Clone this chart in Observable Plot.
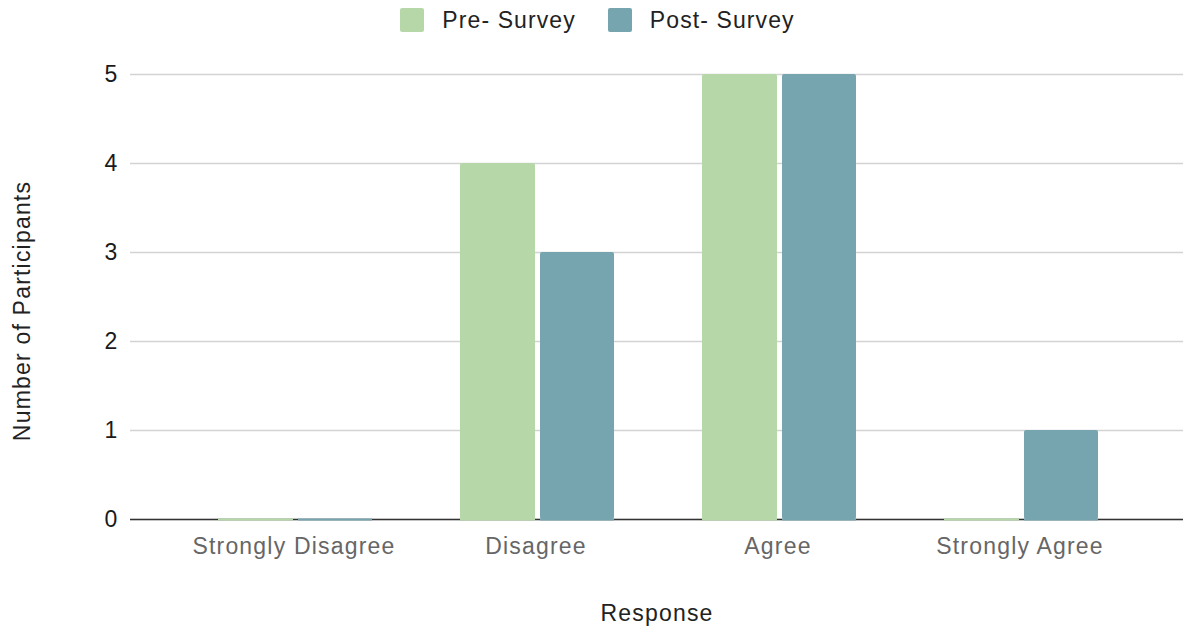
<!DOCTYPE html>
<html><head><meta charset="utf-8">
<script src="https://cdn.jsdelivr.net/npm/d3@7"></script>
<script src="https://cdn.jsdelivr.net/npm/@observablehq/plot@0.6"></script>
<style>
body{margin:0;background:#fff;font-family:"Liberation Sans",Arial,sans-serif;}
#legend{height:40px;display:flex;justify-content:center;align-items:center;gap:32px;font-size:23px;color:#222;letter-spacing:1.1px;padding-left:12px}
.item{display:flex;align-items:center;gap:18px}
.sw{width:24px;height:24px;border-radius:2px}
</style></head><body>
<div id="legend"></div>
<div id="chart"></div>
<script>
const categories = ["Strongly Disagree", "Disagree", "Agree", "Strongly Agree"];
const seriesNames = ["Pre- Survey", "Post- Survey"];
const seriesColors = ["#b6d7a8", "#76a5af"];
const preSurvey = [0, 4, 5, 0];
const postSurvey = [0, 3, 5, 1];
const yTicks = [0, 1, 2, 3, 4, 5];
const xTitle = "Response";
const yTitle = "Number of Participants";

const legend = document.getElementById("legend");
seriesNames.forEach((n, i) => {
  const it = document.createElement("div"); it.className = "item";
  const sw = document.createElement("div"); sw.className = "sw"; sw.style.background = seriesColors[i];
  const tx = document.createElement("span"); tx.textContent = n;
  it.append(sw, tx); legend.append(it);
});

const pre = categories.map((c, i) => ({category: c, value: preSurvey[i]}));
const post = categories.map((c, i) => ({category: c, value: postSurvey[i]}));

const chart = Plot.plot({
  width: 1183,
  height: 594,
  marginLeft: 130,
  marginRight: 0,
  marginTop: 34,
  marginBottom: 115,
  style: {fontSize: "23px", fontFamily: "'Liberation Sans', Arial, sans-serif", letterSpacing: "1.2px", background: "#fff"},
  x: {type: "band", domain: categories, padding: 0.35},
  y: {domain: [0, 5]},
  marks: [
    Plot.ruleY(yTicks, {stroke: "#d3d3d3", strokeWidth: 1.6}),
    Plot.axisY({ticks: yTicks, tickSize: 0, tickPadding: 12, tickFormat: d3.format("d"), color: "#1a1a1a", label: null}),
    Plot.axisX({tickSize: 0, tickPadding: 18, color: "#666", label: null}),
    Plot.text([yTitle], {text: d => d, frameAnchor: "left", rotate: -90, dx: -108, dy: 14, fill: "#222", textAnchor: "middle", lineAnchor: "middle"}),
    Plot.text([xTitle], {text: d => d, frameAnchor: "bottom", dy: 94, fill: "#222", textAnchor: "middle", lineAnchor: "middle"}),
    Plot.ruleY([0], {stroke: "#333", strokeWidth: 1.5}),
    Plot.tickY(pre, {x: "category", y: 0, stroke: seriesColors[0], strokeWidth: 2, insetLeft: 3, insetRight: 79}),
    Plot.tickY(post, {x: "category", y: 0, stroke: seriesColors[1], strokeWidth: 2, insetLeft: 83, insetRight: 0}),
    Plot.barY(pre, {x: "category", y: "value", fill: seriesColors[0], insetLeft: 3, insetRight: 79, rx: 2}),
    Plot.barY(post, {x: "category", y: "value", fill: seriesColors[1], insetLeft: 83, insetRight: 0, rx: 2})
  ]
});
document.getElementById("chart").append(chart);
</script>
</body></html>
